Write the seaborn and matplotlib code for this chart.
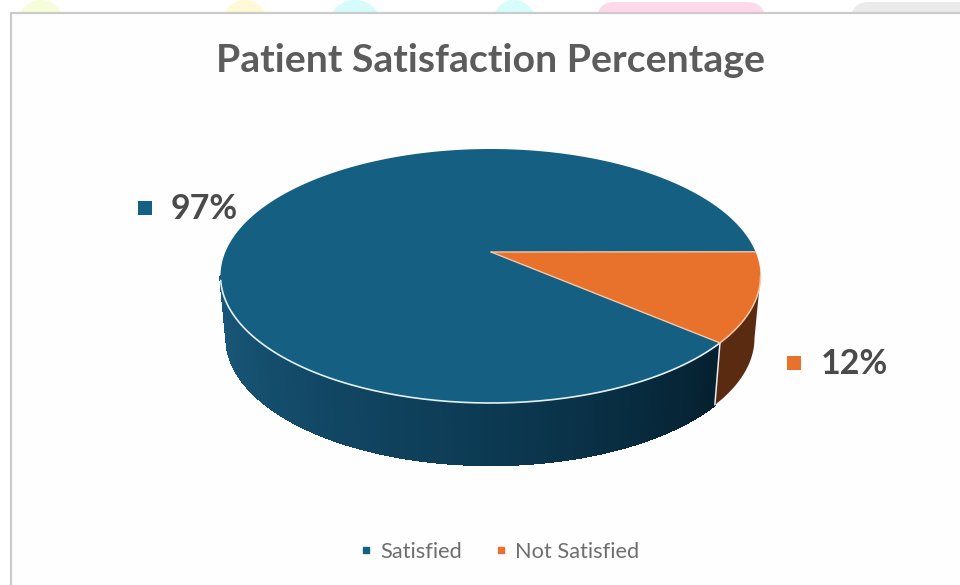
import numpy as np
import matplotlib
matplotlib.use('Agg')
import matplotlib.pyplot as plt
from matplotlib.patches import Ellipse, FancyBboxPatch, Rectangle
from matplotlib.lines import Line2D
from matplotlib.colors import to_rgb
import seaborn as sns

# Chart data
categories = ['Satisfied', 'Not Satisfied']
values = [97, 12]
labels = ['97%', '12%']
title = 'Patient Satisfaction Percentage'

sns.set_theme(style='white')
plt.rcParams['font.family'] = ['Lato', 'DejaVu Sans']
colors = sns.color_palette(['#156082', '#E8722C'])
text_color = '#4a4a4a'

# Ellipse geometry of the tilted pie (figure pixels)
cx, cy, rx, ry = 490.5, 276, 270, 127
apex = (491, 252)
cx2, cy2, rx2 = 490.5, 338, 264
start_angle = 11
perspective = 1.08  # front of the pie looks wider than its true share


def top_pt(theta):
    t = np.radians(theta)
    return cx + rx * np.cos(t), cy - ry * np.sin(t)


def bottom_pt(theta):
    t = np.radians(theta)
    return cx2 + rx2 * np.cos(t), cy2 - ry * np.sin(t)


fig = plt.figure(figsize=(9.6, 5.85), dpi=100)
ax = fig.add_axes([0, 0, 1, 1])
ax.set_xlim(0, 960)
ax.set_ylim(585, 0)
ax.axis('off')

# Page behind the chart
for x, w, c in [(41, 46, '#f6fdd9'), (245, 46, '#fff9d6'), (355, 52, '#d6fbfb'), (514, 44, '#d6fcfc')]:
    ax.add_patch(Ellipse((x, 24), w, 48, fc=c, ec='none', zorder=1))
ax.add_patch(FancyBboxPatch((851, 2), 130, 30, boxstyle='round,pad=0,rounding_size=18',
                            fc='#ebebeb', ec='none', zorder=1))
ax.add_patch(FancyBboxPatch((597, 2), 168, 30, boxstyle='round,pad=0,rounding_size=18',
                            fc='#ffd9ea', ec='none', zorder=1))
ax.add_patch(Rectangle((10.5, 12.5), 970, 590, fc='#fefefe', ec='#cbcbcb', lw=1.6, zorder=2))

# Slice angles come from the values
sweep_small = values[1] / sum(values) * 360 * perspective
orange_from = start_angle
orange_to = start_angle - sweep_small
blue_from = orange_from
blue_to = orange_to + 360

# Side walls, drawn as thin strips so the shading can change along the rim
wall_blue = [to_rgb('#1a5a7c'), to_rgb('#134a68'), to_rgb('#0c3a53'), to_rgb('#05202f')]
wall_angles = np.linspace(-180, orange_to, 140)
for a, b in zip(wall_angles[:-1], wall_angles[1:]):
    f = (a + 180) / (orange_to + 180)
    col = [np.interp(f, [0, 0.3, 0.6, 1], [k[i] for k in wall_blue]) for i in range(3)]
    pts = [top_pt(a), top_pt(b), bottom_pt(b), bottom_pt(a)]
    ax.fill(*zip(*pts), fc=col, ec=col, lw=1.0, antialiased=False, zorder=3)

orange_wall = np.linspace(orange_to, 0, 40)
xs = [top_pt(t)[0] for t in orange_wall] + [bottom_pt(t)[0] for t in orange_wall[::-1]]
ys = [top_pt(t)[1] for t in orange_wall] + [bottom_pt(t)[1] for t in orange_wall[::-1]]
ax.fill(xs, ys, fc='#5a2b10', ec='none', zorder=3)
ax.plot(*zip(top_pt(orange_to), bottom_pt(orange_to)), color='#e8eef2', lw=1.1, zorder=4)

# Top faces
blue_t = np.linspace(blue_from, blue_to, 300)
orange_t = np.linspace(orange_from, orange_to, 80)
for t, c, z in [(blue_t, colors[0], 5), (orange_t, colors[1], 6)]:
    xs = [apex[0]] + [top_pt(v)[0] for v in t]
    ys = [apex[1]] + [top_pt(v)[1] for v in t]
    ax.fill(xs, ys, fc=c, ec='none', zorder=z)

# Light rim and slice edges
rim = np.linspace(-178, orange_to, 160)
ax.plot([top_pt(v)[0] for v in rim], [top_pt(v)[1] for v in rim], color='#e3f1f7', lw=1.2, zorder=7)
rim = np.linspace(orange_to, 0, 40)
ax.plot([top_pt(v)[0] for v in rim], [top_pt(v)[1] for v in rim], color='#f6c8a8', lw=1.1, zorder=7)
for v in (orange_from, orange_to):
    ax.plot(*zip(apex, top_pt(v)), color='#f1c6aa', lw=1.0, zorder=7)

# Data labels
ax.scatter([145, 794], [208, 363], marker='s', s=[95, 95], c=[colors[0], colors[1]], linewidths=0, zorder=8)
ax.text(171, 209, labels[0], fontsize=24.5, fontweight='bold', color=text_color, va='center', ha='left', zorder=8)
ax.text(821, 364, labels[1], fontsize=24.5, fontweight='bold', color=text_color, va='center', ha='left', zorder=8)

ax.text(490.5, 61, title, fontsize=28.3, fontweight='bold', color='#5c5c5c', ha='center', va='center', zorder=8)

handles = [Line2D([], [], ls='none', marker='s', ms=4.5, color=c) for c in colors]
ax.legend(handles, categories, ncol=2, loc='center', bbox_to_anchor=(498, 552),
          bbox_transform=ax.transData, frameon=False, fontsize=15.7, labelcolor='#6e6e6e',
          handlelength=0.8, handletextpad=0.25, columnspacing=1.4)

fig.savefig('out.png', dpi=100)
